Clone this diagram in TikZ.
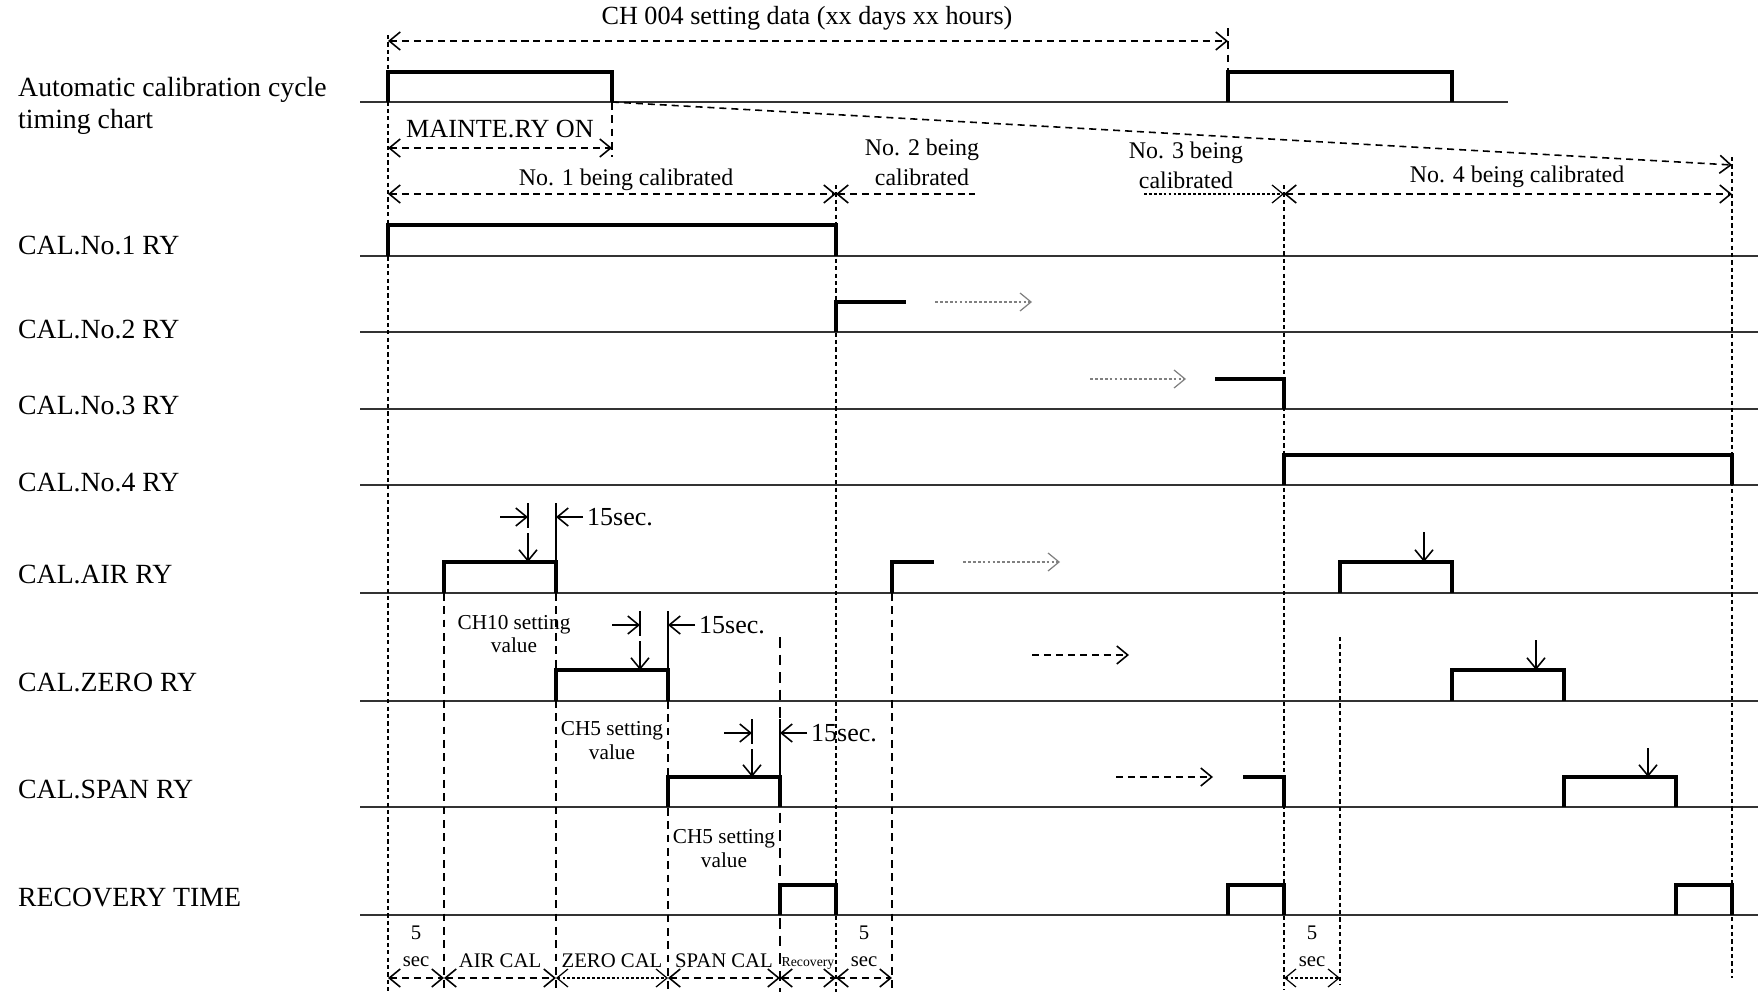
\documentclass[tikz,border=0pt]{standalone}
\usepackage{fontspec}
\setmainfont{Liberation Serif}
\usetikzlibrary{arrows.meta}
\begin{document}
\begin{tikzpicture}[x=0.1mm,y=-0.1mm,
        sig/.style={line width=1.15pt},
        base/.style={line width=0.55pt,black!80},
        guide/.style={line width=0.35pt,dash pattern=on 1.2pt off 0.9pt},
        cut/.style={line width=0.5pt,dash pattern=on 2.2pt off 1.6pt},
        dimline/.style={line width=0.45pt,dash pattern=on 2pt off 1.4pt},
        dotline/.style={line width=0.35pt,dash pattern=on 0.8pt off 0.6pt},
        marker/.style={line width=0.45pt},
        >={Straight Barb[length=1.1mm,width=1.8mm]},
        every node/.style={inner sep=1pt},
        lbl/.style={anchor=west,font=\fontsize{7.9}{9.1}\selectfont},
        head/.style={font=\fontsize{7.45}{9}\selectfont},
        being/.style={font=\fontsize{6.8}{8.5}\selectfont,align=center},
        secs/.style={anchor=west,font=\fontsize{7.4}{9}\selectfont},
        setval/.style={font=\fontsize{6.05}{6.8}\selectfont,align=center},
        step5/.style={font=\fontsize{5.9}{7}\selectfont}]
        \useasboundingbox (0,0) rectangle (1758,992);

        \node[lbl,align=left] (auto) at (14,106) {Automatic calibration cycle\\timing chart};
        \node[lbl] (ry1) at (14,246) {CAL.No.1 RY};
        \node[lbl] (ry2) at (14,330) {CAL.No.2 RY};
        \node[lbl] (ry3) at (14,406) {CAL.No.3 RY};
        \node[lbl] (ry4) at (14,483) {CAL.No.4 RY};
        \node[lbl] (air) at (14,575) {CAL.AIR RY};
        \node[lbl] (zero) at (14,683) {CAL.ZERO RY};
        \node[lbl] (span) at (14,790) {CAL.SPAN RY};
        \node[lbl] (rec) at (14,898) {RECOVERY TIME};

        \draw[base] (360,102) -- (1508,102);
        \draw[base] (360,256) -- (1758,256);
        \draw[base] (360,332) -- (1758,332);
        \draw[base] (360,409) -- (1758,409);
        \draw[base] (360,485) -- (1758,485);
        \draw[base] (360,593) -- (1758,593);
        \draw[base] (360,701) -- (1758,701);
        \draw[base] (360,807) -- (1758,807);
        \draw[base] (360,915) -- (1758,915);

        \draw[guide] (388,35) -- (388,992);
        \draw[guide] (836,185) -- (836,992);
        \draw[guide] (1284,185) -- (1284,990);
        \draw[guide] (1732,157) -- (1732,978);
        \draw[guide] (1340,637) -- (1340,985);
        \draw[cut] (444,593) -- (444,992);
        \draw[cut] (556,593) -- (556,992);
        \draw[cut] (668,701) -- (668,992);
        \draw[cut] (892,593) -- (892,992);
        \draw[cut,line width=0.75pt,dash pattern=on 3pt off 2pt] (780,637) -- (780,992);
        \draw[cut] (1228,28) -- (1228,72);
        \draw[cut] (612,102) -- (612,157);

        \draw[sig] (388,102) -- (388,72) -- (612,72) -- (612,102);
        \draw[sig] (1228,102) -- (1228,72) -- (1452,72) -- (1452,102);
        \draw[sig] (388,256) -- (388,225) -- (836,225) -- (836,256);
        \draw[sig] (836,332) -- (836,302) -- (906,302);
        \draw[sig] (1215,379) -- (1284,379) -- (1284,409);
        \draw[sig] (1284,485) -- (1284,455) -- (1732,455) -- (1732,485);
        \draw[sig] (444,593) -- (444,562) -- (556,562) -- (556,593);
        \draw[sig] (892,593) -- (892,562) -- (934,562);
        \draw[sig] (1340,593) -- (1340,562) -- (1452,562) -- (1452,593);
        \draw[sig] (556,701) -- (556,670) -- (668,670) -- (668,701);
        \draw[sig] (1452,701) -- (1452,670) -- (1564,670) -- (1564,701);
        \draw[sig] (668,807) -- (668,777) -- (780,777) -- (780,807);
        \draw[sig] (1243,777) -- (1284,777) -- (1284,807);
        \draw[sig] (1564,807) -- (1564,777) -- (1676,777) -- (1676,807);
        \draw[sig] (780,915) -- (780,885) -- (836,885) -- (836,915);
        \draw[sig] (1228,915) -- (1228,885) -- (1284,885) -- (1284,915);
        \draw[sig] (1676,915) -- (1676,885) -- (1732,885) -- (1732,915);

        \node[head] (cycle) at (807,18) {CH 004 setting data (xx days xx hours)};
        \draw[dimline,<->] (388,41) -- (1228,41);
        \node[head] (mainte) at (500,129) {MAINTE.RY ON};
        \draw[dimline,<->] (388,148) -- (612,148);
        \draw[dimline,->] (612,102) -- (1732,165);

        \node[being] (cal1) at (626,180) {No. 1 being calibrated};
        \node[being] (cal2) at (922,162) {No. 2 being\\calibrated};
        \node[being] (cal3) at (1186,165) {No. 3 being\\calibrated};
        \node[being] (cal4) at (1517,177) {No. 4 being calibrated};
        \draw[dimline,<->] (388,194) -- (836,194);
        \draw[dimline,<-] (836,194) -- (975,194);
        \draw[dotline,->] (1144,194) -- (1284,194);
        \draw[dimline,<->] (1284,194) -- (1732,194);

        \draw[dotline,gray,->] (935,302) -- (1032,302);
        \draw[dotline,gray,->] (1090,379) -- (1186,379);
        \draw[dotline,gray,->] (963,562) -- (1060,562);
        \draw[dimline,->] (1032,655) -- (1129,655);
        \draw[dimline,->] (1116,777) -- (1213,777);

        \draw[marker,->] (500,517) -- (528,517);
        \draw[marker] (528,503) -- (528,528);
        \draw[marker,->] (528,533) -- (528,562);
        \draw[marker] (556,503) -- (556,562);
        \draw[marker,->] (583,517) -- (556,517);
        \node[secs] (airsec) at (583,517) {15sec.};

        \draw[marker,->] (612,625) -- (640,625);
        \draw[marker] (640,611) -- (640,636);
        \draw[marker,->] (640,641) -- (640,670);
        \draw[marker] (668,611) -- (668,670);
        \draw[marker,->] (695,625) -- (668,625);
        \node[secs] (zerosec) at (695,625) {15sec.};

        \draw[marker,->] (724,733) -- (752,733);
        \draw[marker] (752,719) -- (752,744);
        \draw[marker,->] (752,749) -- (752,777);
        \draw[marker] (780,719) -- (780,777);
        \draw[marker,->] (807,733) -- (780,733);
        \node[secs] (spansec) at (807,733) {15sec.};

        \draw[marker,->] (1424,532) -- (1424,562);
        \draw[marker,->] (1536,640) -- (1536,670);
        \draw[marker,->] (1648,748) -- (1648,777);

        \node[setval] (airval) at (514,634) {CH10 setting\\value};
        \node[setval] (zeroval) at (612,741) {CH5 setting\\value};
        \node[setval] (spanval) at (724,849) {CH5 setting\\value};

        \node[step5] (wait1) at (416,933) {5};
        \node[step5] (wait1s) at (416,962) {sec};
        \node[step5] (aircal) at (500,961) {AIR CAL};
        \node[step5] (zerocal) at (612,961) {ZERO CAL};
        \node[step5] (spancal) at (724,961) {SPAN CAL};
        \node[font=\fontsize{3.9}{4}\selectfont] (recov) at (808,963) {Recovery};
        \node[step5] (wait2) at (864,933) {5};
        \node[step5] (wait2s) at (864,962) {sec};
        \node[step5] (wait3) at (1312,933) {5};
        \node[step5] (wait3s) at (1312,962) {sec};
        \draw[dimline,<->] (388,978) -- (444,978);
        \draw[dimline,<->] (444,978) -- (556,978);
        \draw[dotline,<->] (556,978) -- (668,978);
        \draw[dimline,<->] (668,978) -- (780,978);
        \draw[dimline,<->] (780,978) -- (836,978);
        \draw[dimline,<->] (836,978) -- (892,978);
        \draw[dotline,<->] (1284,978) -- (1340,978);
    \end{tikzpicture}
\end{document}
